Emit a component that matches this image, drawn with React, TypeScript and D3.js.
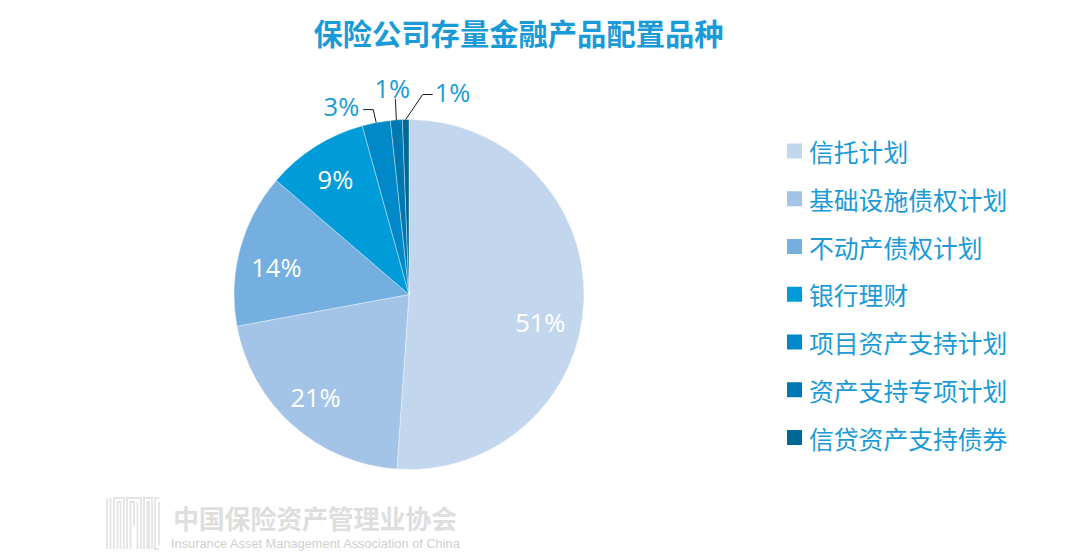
import * as d3 from "d3";
import * as React from "react";

const categories = ["信托计划", "基础设施债权计划", "不动产债权计划", "银行理财", "项目资产支持计划", "资产支持专项计划", "信贷资产支持债券"];
const shares = [51.1, 21.0, 14.2, 9.4, 2.6, 1.1, 0.6];
const colors = ["#C2D6EE", "#A3C4E7", "#74AFE0", "#009CDA", "#0089C8", "#0079B3", "#006897"];

const W = 1074;
const H = 556;
const cx = 409;
const cy = 294.5;
const R = 175;
const blue = "#1A9BD7";
const cjk = "'Noto Sans CJK SC', 'Noto Sans', sans-serif";
const num = "'Open Sans', 'Noto Sans', sans-serif";

interface Slice { label: string; value: number; }

// inside label nudges / outside leader settings (styling only)
const insideNudge: Record<number, [number, number]> = { 0: [-6, 23], 1: [-2, 0], 2: [0, 8] };
const outside: Record<number, { elbow: [number, number]; tail: number; anchor: string; tdx: number; tdy: number }> = {
    4: { elbow: [-3, -13], tail: -10, anchor: "end", tdx: -4, tdy: -4 },
    5: { elbow: [-1, -21], tail: 0, anchor: "middle", tdx: -3, tdy: -11 },
    6: { elbow: [17, -25], tail: 10, anchor: "start", tdx: 2, tdy: -3 },
};

export default function App(): JSX.Element {
    const data: Slice[] = categories.map((c, i) => ({ label: c, value: shares[i] }));
    const total = d3.sum(shares);
    const arcs = d3.pie<Slice>().sort(null).value(d => d.value)(data);
    const arcGen = d3.arc<d3.PieArcDatum<Slice>>().innerRadius(0).outerRadius(R);
    const pct = (v: number) => `${Math.round(v / total * 100)}%`;
    const legendY = d3.scalePoint<string>().domain(categories).range([151, 437.5]);

    return (
        <svg width={W} height={H} style={{ position: "fixed", left: 0, top: 0, background: "#fff" }}>
            <text x={518.5} y={31.5} textAnchor="middle" dominantBaseline="central" fill={blue}
                style={{ fontFamily: cjk, fontWeight: 700, fontSize: 29.3 }}>保险公司存量金融产品配置品种</text>

            <g transform={`translate(${cx},${cy})`}>
                {arcs.map((a, i) => (
                    <path key={i} d={arcGen(a) || ""} fill={colors[i]} stroke="#ffffff" strokeOpacity={0.45} strokeWidth={0.8} />
                ))}
                {arcs.map((a, i) => {
                    const mid = (a.startAngle + a.endAngle) / 2;
                    if (outside[i]) {
                        const o = outside[i];
                        const sx = Math.sin(mid) * R;
                        const sy = -Math.cos(mid) * R;
                        const ex = sx + o.elbow[0];
                        const ey = sy + o.elbow[1];
                        const tx = ex + o.tail;
                        return (
                            <g key={"l" + i}>
                                <polyline points={`${sx},${sy} ${ex},${ey} ${tx},${ey}`} fill="none" stroke="#1a1a1a" strokeWidth={1} />
                                <text x={tx + o.tdx} y={ey + o.tdy} textAnchor={o.anchor} dominantBaseline="central"
                                    fill={blue} style={{ fontFamily: num, fontSize: 25.5 }}>{pct(a.data.value)}</text>
                            </g>
                        );
                    }
                    const lr = R * 0.785;
                    const n = insideNudge[i] || [0, 0];
                    return (
                        <text key={"l" + i} x={Math.sin(mid) * lr + n[0]} y={-Math.cos(mid) * lr + n[1]}
                            textAnchor="middle" dominantBaseline="central" fill="#ffffff"
                            style={{ fontFamily: num, fontSize: 25.5 }}>{pct(a.data.value)}</text>
                    );
                })}
            </g>

            <g>
                {categories.map((c, i) => (
                    <g key={c} transform={`translate(787,${legendY(c)})`}>
                        <rect x={0} y={-7.5} width={15} height={15} fill={colors[i]} />
                        <text x={22} y={0} dominantBaseline="central" fill={blue}
                            style={{ fontFamily: cjk, fontSize: 24.8 }}>{c}</text>
                    </g>
                ))}
            </g>

            <g stroke="#e4e4e4" strokeWidth={1.8} fill="none">
                <path d="M107 549V498M110.5 549V498" />
                <path d="M114 549V498H124V549M117.5 549V502H120.5V549" />
                <path d="M127 549V498H141V549M130.5 549V502H134V526M137.5 549V502" />
                <path d="M144 549V498H152V549M147.5 549V502H149V549" />
                <path d="M159 498H155V549H159M159 502V545" />
            </g>
            <text x={173} y={517} dominantBaseline="central" fill="#dedede"
                style={{ fontFamily: cjk, fontWeight: 700, fontSize: 26, letterSpacing: -0.2 }}>中国保险资产管理业协会</text>
            <text x={171} y={543} dominantBaseline="central" fill="#d0d0d0"
                style={{ fontFamily: "'Liberation Sans', Arial, sans-serif", fontSize: 12.8 }}>Insurance Asset Management Association of China</text>
        </svg>
    );
}
